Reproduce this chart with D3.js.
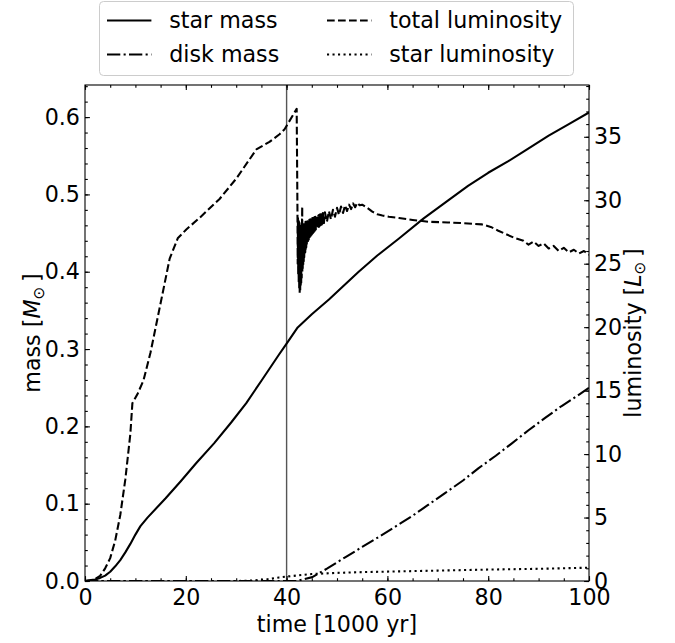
<!DOCTYPE html>
<html>
<head>
<meta charset="utf-8">
<script src="https://cdn.jsdelivr.net/npm/d3@7"></script>
<style>
    body { margin: 0; background: #fff; }
    svg text { font-family: "DejaVu Sans", sans-serif; fill: #000; }
</style>
</head>
<body>
<svg id="chart" width="675" height="643"></svg>
<script>
"use strict";

// Values: [time (1000 yr), value].
const starMass = [
    [0, 0], [1, 0.001], [2, 0.002], [3, 0.004], [4, 0.007], [5, 0.012], [6, 0.019], [7, 0.027],
    [8, 0.037], [9, 0.048], [10, 0.060], [11, 0.071], [12.4, 0.082], [16, 0.107], [19, 0.129],
    [22, 0.152], [25.6, 0.178], [29, 0.205], [32, 0.230], [35, 0.259], [38.5, 0.293], [40, 0.307],
    [42.2, 0.328], [45, 0.345], [48.4, 0.364], [51, 0.380], [54.3, 0.400], [58, 0.421], [62.3, 0.443],
    [67.2, 0.469], [72, 0.492], [76, 0.511], [80, 0.528], [84, 0.543], [87.4, 0.557], [92, 0.576],
    [96, 0.591], [100, 0.606]
];

const diskMass = [
    [0, 0], [42, 0], [45.1, 0.005], [48, 0.016], [51.7, 0.031], [55, 0.044], [58.3, 0.057],
    [61.5, 0.070], [64.9, 0.084], [68, 0.098], [71.5, 0.114], [75, 0.130], [78.1, 0.146],
    [81.5, 0.162], [84.7, 0.178], [88, 0.195], [91.3, 0.211], [94.5, 0.226], [97.8, 0.240], [100, 0.250]
];

const totalLum = [
    [0, 0], [1, 0.05], [2, 0.15], [3, 0.4], [4, 1.0], [5, 1.8], [6, 3.2], [7, 5.2], [8, 8.0], [9, 11.6],
    [9.4, 14.0], [10.5, 14.8], [11.6, 15.8], [13, 18.0], [14.8, 21.5], [16.8, 25.4], [18.4, 27.0],
    [20.1, 27.7], [22.7, 28.6], [26.7, 30.1], [30, 31.7], [34, 34.0], [36.6, 34.6], [38.6, 35.2],
    [39.6, 35.6], [42.0, 37.2],
    // the noisy stretch after the burst
    [42.15, 29.4], [42.2, 25.0], [42.25, 28.6], [42.3, 24.2], [42.35, 28.4], [42.4, 23.6],
    [42.45, 28.3], [42.5, 23.1], [42.55, 28.2], [42.6, 22.7], [42.65, 28.0], [42.7, 22.9],
    [42.75, 27.9], [42.8, 23.2], [42.85, 28.0], [42.9, 23.5], [42.95, 27.9], [43.0, 23.9],
    [43.05, 28.1], [43.1, 29.5], [43.12, 24.3], [43.15, 28.0], [43.2, 24.6], [43.25, 28.1],
    [43.3, 24.9], [43.35, 28.0], [43.4, 25.2], [43.45, 28.2], [43.5, 25.5], [43.55, 28.1],
    [43.6, 25.7], [43.65, 28.2], [43.7, 25.9], [43.75, 28.3], [43.8, 26.1], [43.85, 28.2],
    [43.9, 26.3], [43.95, 28.3], [44.0, 26.4], [44.1, 28.35], [44.2, 26.7], [44.3, 28.4],
    [44.4, 26.9], [44.5, 28.45], [44.6, 27.1], [44.7, 28.5], [44.8, 27.2], [44.9, 28.55],
    [45.0, 27.3], [45.1, 28.6], [45.2, 27.4], [45.3, 28.6], [45.4, 27.5], [45.5, 28.65],
    [45.6, 27.6], [45.7, 28.7], [45.8, 27.7], [45.9, 28.7], [46.0, 27.8], [46.1, 28.75],
    [46.2, 27.85], [46.3, 28.8], [46.4, 27.9], [46.5, 28.85], [46.6, 28.0], [46.7, 28.9],
    [46.8, 28.05], [46.9, 28.9], [47.0, 28.1], [47.2, 29.0], [47.4, 28.2], [47.6, 29.05],
    [48.0, 28.3], [48.4, 29.15], [48.8, 28.5], [49.2, 29.25], [49.6, 28.7], [50.0, 29.4],
    [50.4, 28.85], [50.8, 29.5], [51.2, 29.0], [51.6, 29.6], [52.0, 29.15], [52.4, 29.65],
    [52.8, 29.3], [53.2, 29.75], [53.6, 29.45], [54.0, 29.8], [54.5, 29.6], [55.0, 29.65],
    [56.0, 29.4], [57.0, 29.1], [58.0, 28.9], [59.0, 28.8], [60.3, 28.7], [62.3, 28.6],
    [65, 28.45], [68.2, 28.3], [72, 28.25], [75, 28.2], [78.7, 28.1], [80.5, 27.9], [82, 27.6],
    [85.4, 27.0], [87, 26.8], [88, 26.5], [89, 26.75], [90, 26.4], [91, 26.6], [92, 26.2],
    [93, 26.4], [94, 26.0], [95, 26.25], [96, 25.9], [97, 26.1], [98, 25.8], [99, 26.0], [100, 25.7]
];

const starLum = [
    [0, 0], [30, 0], [33, 0.03], [36, 0.12], [38.5, 0.28], [40, 0.35], [42, 0.43], [45, 0.55],
    [50, 0.64], [55, 0.7], [60, 0.74], [70, 0.82], [80, 0.9], [90, 0.96], [100, 1.05]
];

const markerTime = 40;

const xTicks = [0, 20, 40, 60, 80, 100];
const massTicks = [0.0, 0.1, 0.2, 0.3, 0.4, 0.5, 0.6];
const lumTicks = [0, 5, 10, 15, 20, 25, 30, 35];

const legendLabels = ["star mass", "total luminosity", "disk mass", "star luminosity"];

// Layout
const plotLeft = 85, plotRight = 589, plotTop = 85, plotBottom = 581;
const fontSize = 22.2;
const lw = 2.08;
const dashes = {
    solid: null,
    dashed: "7.7,3.3",
    dashdot: "13.3,3.3,2.1,3.3",
    dotted: "2.1,3.4"
};

const svg = d3.select("#chart");

const x = d3.scaleLinear().domain([0, 100]).range([plotLeft, plotRight]);
const yMass = d3.scaleLinear().domain([0, 0.6415]).range([plotBottom, plotTop]);
const yLum = d3.scaleLinear().domain([0, 39.08]).range([plotBottom, plotTop]);

svg.append("defs").append("clipPath").attr("id", "plot-clip")
    .append("rect")
    .attr("x", plotLeft).attr("y", plotTop)
    .attr("width", plotRight - plotLeft).attr("height", plotBottom - plotTop);

const plot = svg.append("g").attr("clip-path", "url(#plot-clip)");

// vertical marker
plot.append("line")
    .attr("x1", x(markerTime)).attr("x2", x(markerTime))
    .attr("y1", plotTop).attr("y2", plotBottom)
    .attr("stroke", "#555").attr("stroke-width", 1.4);

function drawSeries(data, yScale, dash) {
    const line = d3.line()
        .x(d => x(d[0]))
        .y(d => yScale(d[1]));
    plot.append("path")
        .datum(data)
        .attr("d", line)
        .attr("fill", "none")
        .attr("stroke", "#000")
        .attr("stroke-width", lw)
        .attr("stroke-linejoin", "round")
        .attr("stroke-dasharray", dash);
}

drawSeries(starLum, yLum, dashes.dotted);
drawSeries(diskMass, yMass, dashes.dashdot);
drawSeries(starMass, yMass, dashes.solid);
drawSeries(totalLum, yLum, dashes.dashed);

// Axes: ticks point inward.
function range(a, b, step) {
    const out = [];
    for (let v = a; v <= b + 1e-9; v += step) out.push(+v.toFixed(4));
    return out;
}

function addAxis(axis, transform, values, size, labels, pad) {
    const g = svg.append("g")
        .attr("transform", transform)
        .call(axis.tickValues(values).tickSize(-size).tickSizeOuter(0).tickPadding(pad)
            .tickFormat(labels));
    g.select(".domain").remove();
    g.selectAll(".tick line").attr("stroke", "#000").attr("stroke-width", 1.1);
    g.selectAll(".tick text").style("font-size", fontSize + "px").attr("fill", "#000")
        .style("font-family", "'DejaVu Sans', sans-serif");
    return g;
}

const none = () => "";
const fmtMass = d3.format(".1f");

// bottom
addAxis(d3.axisBottom(x), `translate(0,${plotBottom})`, range(0, 100, 5), 2.8, none, 0);
addAxis(d3.axisBottom(x), `translate(0,${plotBottom})`, xTicks, 4.9, d3.format("d"), 8);
// top
addAxis(d3.axisTop(x), `translate(0,${plotTop})`, range(0, 100, 5), 2.8, none, 0);
addAxis(d3.axisTop(x), `translate(0,${plotTop})`, xTicks, 4.9, none, 0);
// left
addAxis(d3.axisLeft(yMass), `translate(${plotLeft},0)`, range(0, 0.64, 0.02), 2.8, none, 0);
addAxis(d3.axisLeft(yMass), `translate(${plotLeft},0)`, massTicks, 4.9, fmtMass, 5);
// right
addAxis(d3.axisRight(yLum), `translate(${plotRight},0)`, range(0, 39, 1), 2.8, none, 0);
addAxis(d3.axisRight(yLum), `translate(${plotRight},0)`, lumTicks, 4.9, d3.format("d"), 5);

// frame
svg.append("rect")
    .attr("x", plotLeft).attr("y", plotTop)
    .attr("width", plotRight - plotLeft).attr("height", plotBottom - plotTop)
    .attr("fill", "none").attr("stroke", "#000").attr("stroke-width", 1.1);

// axis labels
svg.append("text")
    .attr("x", (plotLeft + plotRight) / 2).attr("y", 632)
    .attr("text-anchor", "middle")
    .style("font-size", fontSize + "px")
    .text("time [1000 yr]");

const massLabel = svg.append("text")
    .attr("text-anchor", "middle")
    .attr("transform", `translate(40,${(plotTop + plotBottom) / 2}) rotate(-90)`)
    .style("font-size", fontSize + "px");
massLabel.append("tspan").text("mass [");
massLabel.append("tspan").attr("font-style", "italic").text("M");
massLabel.append("tspan").attr("dy", 4).style("font-size", (fontSize * 0.7) + "px").text("\u2299");
massLabel.append("tspan").attr("dy", -4).text("\u2009]");

const lumLabel = svg.append("text")
    .attr("text-anchor", "middle")
    .attr("transform", `translate(641,${(plotTop + plotBottom) / 2}) rotate(-90)`)
    .style("font-size", fontSize + "px");
lumLabel.append("tspan").text("luminosity [");
lumLabel.append("tspan").attr("font-style", "italic").text("L");
lumLabel.append("tspan").attr("dy", 4).style("font-size", (fontSize * 0.7) + "px").text("\u2299");
lumLabel.append("tspan").attr("dy", -4).text("\u2009]");

// legend
const legend = svg.append("g");
legend.append("rect")
    .attr("x", 99.5).attr("y", 1.5)
    .attr("width", 474).attr("height", 74)
    .attr("rx", 4).attr("ry", 4)
    .attr("fill", "#fff").attr("fill-opacity", 0.8)
    .attr("stroke", "#ccc").attr("stroke-width", 1);

const legendDash = [dashes.solid, dashes.dashed, dashes.dashdot, dashes.dotted];
legendLabels.forEach((label, i) => {
    const col = i % 2, row = Math.floor(i / 2);
    const hx = col === 0 ? 107 : 327;
    const cy = row === 0 ? 20.5 : 54.5;
    legend.append("line")
        .attr("x1", hx).attr("x2", hx + 44.4)
        .attr("y1", cy).attr("y2", cy)
        .attr("stroke", "#000").attr("stroke-width", lw)
        .attr("stroke-dasharray", legendDash[i]);
    legend.append("text")
        .attr("x", hx + 62.2).attr("y", cy + 7.8)
        .style("font-size", fontSize + "px")
        .text(label);
});
</script>
</body>
</html>
